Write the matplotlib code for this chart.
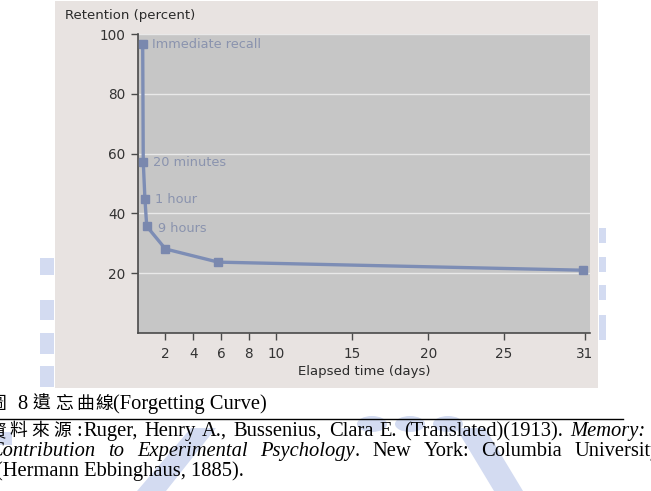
import numpy as np
import matplotlib
matplotlib.use("Agg")
import matplotlib.pyplot as plt
from matplotlib.patches import Rectangle, Polygon, Ellipse
from matplotlib.lines import Line2D

# ---- data ----
days = [0.36, 0.40, 0.52, 0.65, 2.0, 5.8, 30.9]
retention = [96.8, 57.3, 44.9, 35.7, 28.1, 23.7, 21.0]
point_labels = ["Immediate recall", "20 minutes", "1 hour", "9 hours", None, None, None]
x_ticks = [2, 4, 6, 8, 10, 15, 20, 25, 31]
y_ticks = [20, 40, 60, 80, 100]

W, H = 651, 491
DPI = 100
fig = plt.figure(figsize=(W / DPI, H / DPI), dpi=DPI)
fig.patch.set_facecolor("white")

def fx(px):
    return px / W

def fy(py):
    return 1 - py / H

# faint watermark shapes in the page background
wm = "#d3dbf1"
def wrect(x0, y0, x1, y1):
    fig.patches.append(Rectangle((fx(x0), fy(y1)), fx(x1) - fx(x0), fy(y0) - fy(y1),
                                 transform=fig.transFigure, facecolor=wm,
                                 edgecolor="none", zorder=-20))
for y0, y1 in [(228, 243), (257, 272), (285, 300), (315, 340)]:
    wrect(599, y0, 606, y1)
for y0, y1 in [(258, 275), (300, 320), (333, 354), (366, 387)]:
    wrect(40, y0, 54, y1)
wrect(0, 432, 12, 445)
for pts in [[(137, 491), (166, 491), (216, 428), (191, 428)],
            [(456, 428), (485, 428), (523, 491), (494, 491)]]:
    fig.patches.append(Polygon([(fx(a), fy(b)) for a, b in pts], closed=True,
                               transform=fig.transFigure, facecolor=wm,
                               edgecolor="none", zorder=-20))
for cx in [372, 410, 448]:
    fig.patches.append(Ellipse((fx(cx), fy(424)), fx(30), fy(0) - fy(16),
                               transform=fig.transFigure, facecolor=wm,
                               edgecolor="none", zorder=-20))

# chart panel background
fig.patches.append(Rectangle((fx(55), fy(388)), fx(598) - fx(55), fy(1) - fy(388),
                             transform=fig.transFigure, facecolor="#e8e3e1",
                             edgecolor="none", zorder=-10))

ax = fig.add_axes([fx(137.7), fy(333), fx(590) - fx(137.7), fy(34) - fy(333)])
ax.set_facecolor("#c6c6c6")

# piecewise axis scale as drawn in the original chart
bp_days = np.array([0.0, 10.0, 25.0, 31.4])
bp_pos = np.array([0.0, 139.0, 367.0, 453.0])

def fwd(x):
    return np.interp(x, bp_days, bp_pos)

def inv(p):
    return np.interp(p, bp_pos, bp_days)

ax.set_xscale("function", functions=(fwd, inv))
ax.set_xlim(0, 31.4)
ax.set_ylim(0, 100)

ax.set_yticks(y_ticks)
ax.set_xticks(x_ticks)
ax.set_xticklabels([str(t) for t in x_ticks])
ax.grid(axis="y", color="#e9e9e9", linewidth=1.0)
ax.set_axisbelow(True)

for s in ["top", "right"]:
    ax.spines[s].set_visible(False)
for s in ["left", "bottom"]:
    ax.spines[s].set_color("#4a4a4a")
    ax.spines[s].set_linewidth(1.2)

ax.tick_params(axis="both", colors="#4a4a4a", length=5, width=1.0,
               labelsize=9.8, labelcolor="#333333")
ax.tick_params(axis="x", pad=5)
ax.tick_params(axis="y", pad=4)

line_col = "#7d8db5"
ax.plot(days, retention, color=line_col, linewidth=2.4, marker="s",
        markersize=6, markerfacecolor="#7a88ae", markeredgecolor="#7a88ae",
        zorder=3, clip_on=False)

offsets = [(9, -1), (10, -1), (10, -1), (11.5, -2)]
for d, r, lab, off in zip(days, retention, point_labels, offsets + [None] * 3):
    if lab:
        ax.annotate(lab, (d, r), xytext=off, textcoords="offset pixels",
                    ha="left", va="center", fontsize=9.3, color="#8a93ae")

fig.text(fx(65), fy(16), "Retention (percent)", ha="left", va="center",
         fontsize=9.5, color="#2a2a2a")
fig.text(fx(364), fy(371), "Elapsed time (days)", ha="center", va="center",
         fontsize=9.5, color="#2a2a2a")

# ---- caption below the chart ----
serif = "Liberation Serif"
cjk = "Noto Sans CJK TC"
fs = 14.8
cfs = 12.8

def t(x, y, s, ha="left", **kw):
    kw.setdefault("fontsize", fs)
    kw.setdefault("family", serif)
    return fig.text(fx(x), fy(y), s, ha=ha, va="baseline", color="black", **kw)

renderer = fig.canvas.get_renderer()

def justify(words, y, x_start, x_end):
    """words: list of (text, style, joined_to_previous)"""
    arts = [t(0, y, w, style=st) for w, st, _ in words]
    widths = [a.get_window_extent(renderer).width for a in arts]
    n_gaps = sum(1 for _, _, j in words[1:] if not j)
    gap = (x_end - x_start - sum(widths)) / max(n_gaps, 1)
    x = x_start
    for i, (a, w) in enumerate(zip(arts, widths)):
        if i > 0 and not words[i][2]:
            x += gap
        a.set_x(fx(x))
        x += w

# line 1
t(-11, 409, "圖", family=cjk, fontsize=cfs)
t(17, 409, "8")
for ch, x in zip("遺忘曲線", [33, 55, 76, 95]):
    t(x, 409, ch, family=cjk, fontsize=cfs)
t(113, 409, "(Forgetting Curve)")
fig.add_artist(Line2D([fx(0), fx(623)], [fy(418.5), fy(418.5)], color="black",
                      linewidth=1.0, transform=fig.transFigure))

# line 2 (justified)
for ch, x in zip("資料來源", [-12, 9, 31, 53]):
    t(x, 436, ch, family=cjk, fontsize=cfs)
t(76, 436, ":")
justify([("Ruger,", "normal", False), ("Henry", "normal", False),
         ("A.,", "normal", False), ("Bussenius,", "normal", False),
         ("Clara", "normal", False), ("E.", "normal", False),
         ("(Translated)(1913).", "normal", False), ("Memory:", "italic", False)],
        436, 83, 645)

# line 3 (justified across the page width)
justify([("Contribution", "italic", False), ("to", "italic", False),
         ("Experimental", "italic", False), ("Psychology", "italic", False),
         (".", "normal", True), ("New", "normal", False), ("York:", "normal", False),
         ("Columbia", "normal", False), ("University", "normal", False)],
        456, -10, 661)

# line 4
t(-4, 476, "(Hermann Ebbinghaus, 1885).")

fig.savefig("out.png", dpi=DPI)
